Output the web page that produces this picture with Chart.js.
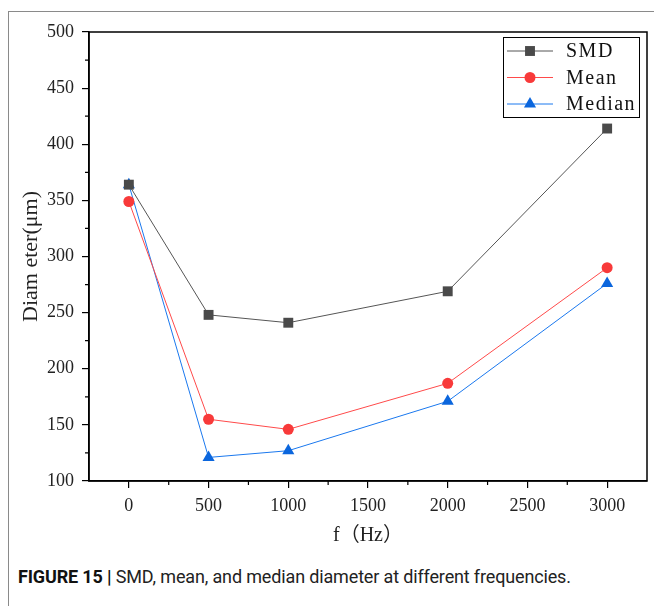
<!DOCTYPE html>
<html>
<head>
<meta charset="utf-8">
<script src="https://cdn.jsdelivr.net/npm/chart.js@4/dist/chart.umd.js"></script>
<style>
  html, body { margin: 0; padding: 0; background: #fff; }
  body { width: 654px; height: 606px; position: relative; overflow: hidden; }
  #frame { position: absolute; left: 8px; top: 11px; width: 700px; height: 700px;
           border-top: 1px solid #8a8a8a; border-left: 1px solid #8a8a8a; }
  #wrap { position: absolute; left: 0; top: 0; width: 654px; height: 560px; }
  #caption { position: absolute; left: 18px; top: 566px; font-family: Roboto, "Liberation Sans", sans-serif;
             font-size: 18px; color: #222; white-space: nowrap; letter-spacing: -0.15px; }
  #caption b { font-weight: 700; color: #111; }
</style>
</head>
<body>
<div id="frame"></div>
<div id="wrap"><canvas id="c"></canvas></div>
<div id="caption"><b>FIGURE 15 |</b> SMD, mean, and median diameter at different frequencies.</div>
<script>
// ---- data ----
const frequencies = [0, 500, 1000, 2000, 3000];
const smdValues = [364, 248, 241, 269, 414];
const meanValues = [349, 155, 146, 187, 290];
const medianValues = [364, 121, 127, 171, 276];
const seriesNames = ['SMD', 'Mean', 'Median'];
const xTickLabels = [0, 500, 1000, 1500, 2000, 2500, 3000];
const yTickLabels = [100, 150, 200, 250, 300, 350, 400, 450, 500];

const toPoints = vals => frequencies.map((f, i) => ({ x: f, y: vals[i] }));

const tickFont = { family: '"Liberation Serif", "DejaVu Serif", serif', size: 18 };

const boxPlugin = {
  id: 'boxAndMinor',
  afterDraw(chart) {
    const { ctx, chartArea: a, scales } = chart;
    ctx.save();
    ctx.strokeStyle = '#000';
    ctx.lineWidth = 1.5;
    ctx.strokeRect(a.left, a.top, a.right - a.left, a.bottom - a.top);
    // minor ticks
    ctx.lineWidth = 1.2;
    ctx.beginPath();
    for (let v = 125; v < 500; v += 50) {
      const y = scales.y.getPixelForValue(v);
      ctx.moveTo(a.left, y); ctx.lineTo(a.left - 4, y);
    }
    for (let v = 250; v < 3000; v += 500) {
      const x = scales.x.getPixelForValue(v);
      ctx.moveTo(x, a.bottom); ctx.lineTo(x, a.bottom + 4);
    }
    ctx.stroke();
    // legend
    const right = a.right - 8, top = a.top + 5, w = 136, h = 80;
    const left = right - w;
    ctx.lineWidth = 1;
    ctx.strokeStyle = '#000';
    ctx.strokeRect(left + 0.5, top + 0.5, w, h);
    ctx.font = '20px "Liberation Serif", "DejaVu Serif", serif';
    if ('letterSpacing' in ctx) ctx.letterSpacing = '1.5px';
    ctx.textBaseline = 'middle';
    ctx.textAlign = 'left';
    chart.data.datasets.forEach((ds, i) => {
      const y = top + 14 + i * 26.5;
      ctx.strokeStyle = ds.borderColor;
      ctx.lineWidth = 1;
      ctx.beginPath();
      ctx.moveTo(left + 4, y); ctx.lineTo(left + 50, y);
      ctx.stroke();
      ctx.fillStyle = ds.pointBackgroundColor;
      ctx.strokeStyle = ds.pointBorderColor;
      Chart.helpers.drawPoint(ctx, { pointStyle: ds.pointStyle, radius: ds.pointRadius, rotation: 0, borderWidth: 0 }, left + 27, y);
      ctx.fillStyle = '#111';
      ctx.fillText(ds.label, left + 63, y + 1);
    });
    ctx.restore();
  }
};

new Chart(document.getElementById('c'), {
  type: 'line',
  data: {
    datasets: [
      { label: seriesNames[0], data: toPoints(smdValues), borderColor: '#555555', borderWidth: 1,
        pointStyle: 'rect', pointRadius: 7, pointBackgroundColor: '#4a4a4a', pointBorderColor: '#4a4a4a', pointBorderWidth: 0 },
      { label: seriesNames[1], data: toPoints(meanValues), borderColor: '#ff4a4a', borderWidth: 1,
        pointStyle: 'circle', pointRadius: 5.5, pointBackgroundColor: '#f83a3a', pointBorderColor: '#f83a3a', pointBorderWidth: 0 },
      { label: seriesNames[2], data: toPoints(medianValues), borderColor: '#1a78ee', borderWidth: 1,
        pointStyle: 'triangle', pointRadius: 7, pointBackgroundColor: '#0b66dd', pointBorderColor: '#0b66dd', pointBorderWidth: 0 }
    ]
  },
  options: {
    responsive: true,
    maintainAspectRatio: false,
    animation: false,
    layout: { padding: { left: 0, top: 32, right: 4, bottom: 0 } },
    plugins: { legend: { display: false }, tooltip: { enabled: false } },
    scales: {
      x: {
        type: 'linear', min: -250, max: 3250,
        afterFit(s) { s.height = 79; },
        afterBuildTicks(s) {
          s.ticks = [];
          for (let v = -250; v <= 3250; v += 250) s.ticks.push({ value: v });
        },
        border: { display: true, color: '#000', width: 1.5 },
        grid: { drawOnChartArea: false, tickLength: 7, lineWidth: 1.2,
          tickColor: c => (c.tick && xTickLabels.includes(c.tick.value)) ? '#000' : 'rgba(0,0,0,0)' },
        ticks: { autoSkip: false, maxRotation: 0, color: '#222', font: tickFont, padding: 7,
          callback: v => xTickLabels.includes(v) ? String(v) : '' },
        title: { display: true, text: 'f（Hz）', color: '#222',
          font: { family: '"Liberation Serif", "Noto Sans CJK SC", serif', size: 20 },
          padding: { top: 2, bottom: 12 } }
      },
      y: {
        type: 'linear', min: 100, max: 500,
        afterFit(s) { s.width = 89; },
        afterBuildTicks(s) { s.ticks = yTickLabels.map(v => ({ value: v })); },
        border: { display: true, color: '#000', width: 1.5 },
        grid: { drawOnChartArea: false, tickLength: 7, lineWidth: 1.2, tickColor: '#000' },
        ticks: { autoSkip: false, color: '#222', font: tickFont, padding: 8,
          callback: v => String(v) },
        title: { display: true, text: 'Diam eter(μm)', color: '#222',
          font: { family: '"Liberation Serif", "DejaVu Serif", serif', size: 22 },
          padding: { top: 18, bottom: 0 } }
      }
    }
  },
  plugins: [boxPlugin]
});
</script>
</body>
</html>
